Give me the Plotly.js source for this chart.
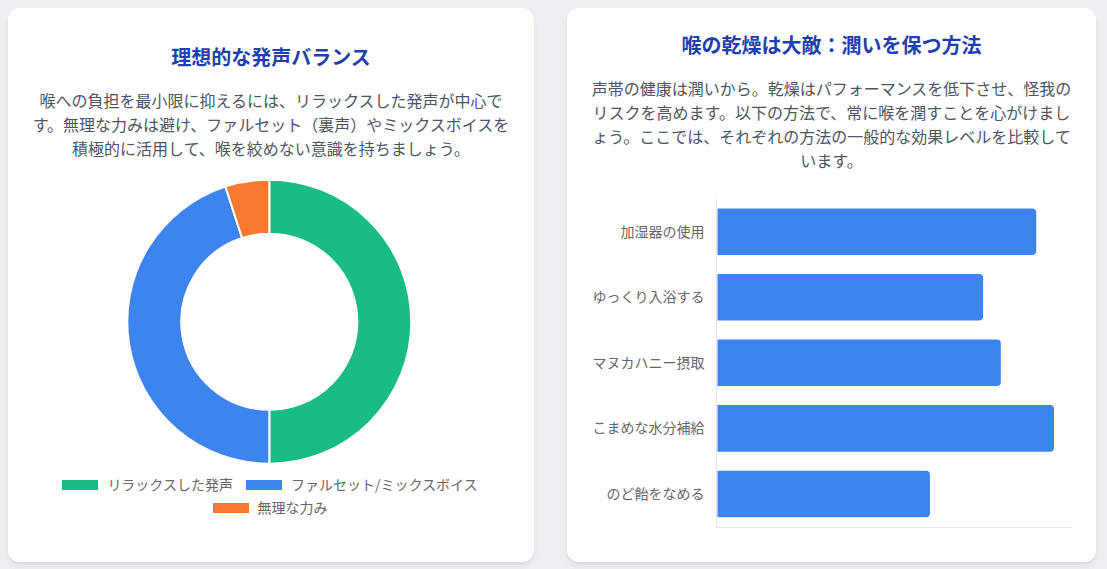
<!DOCTYPE html>
<html lang="ja">
<head>
<meta charset="utf-8">
<script src="https://cdn.plot.ly/plotly-3.0.1.min.js"></script>
<style>
  html, body { margin: 0; padding: 0; }
  body {
    width: 1107px; height: 569px; overflow: hidden; position: relative;
    background: #edeff3;
    font-family: "Noto Sans CJK JP", "Noto Sans", sans-serif;
  }
  .card {
    position: absolute; top: 8px; height: 554px; background: #ffffff;
    border-radius: 12px;
    box-shadow: 0 4px 6px -1px rgba(0,0,0,0.08), 0 2px 4px -2px rgba(0,0,0,0.06);
  }
  .title {
    position: absolute; text-align: center; font-weight: 700;
    color: #1e40af; font-size: 20px; line-height: 28px; white-space: nowrap;
  }
  .para {
    position: absolute; text-align: center; color: #4b5563;
    font-size: 16px; line-height: 24px; white-space: nowrap;
  }
  #chart { position: absolute; left: 0; top: 0; width: 1107px; height: 569px; }
  #legend {
    position: absolute; left: 55px; top: 473px; width: 430px;
    display: flex; flex-wrap: wrap; justify-content: center;
    font-size: 14px; color: #666666; line-height: 23px;
  }
  .litem { display: flex; align-items: center; margin: 0 6.5px; white-space: nowrap; }
  .lbox { width: 36px; height: 10px; margin-right: 9px; }
</style>
</head>
<body>
<div class="card" style="left:8px; width:526px;"></div>
<div class="card" style="left:567px; width:529px;"></div>

<div class="title" style="left:8px; width:526px; top:43px;">理想的な発声バランス</div>
<div class="para" style="left:8px; width:526px; top:88px;">喉への負担を最小限に抑えるには、リラックスした発声が中心で<br>す。無理な力みは避け、ファルセット（裏声）やミックスボイスを<br>積極的に活用して、喉を絞めない意識を持ちましょう。</div>

<div class="title" style="left:567px; width:529px; top:31px;">喉の乾燥は大敵：潤いを保つ方法</div>
<div class="para" style="left:567px; width:529px; top:76px;">声帯の健康は潤いから。乾燥はパフォーマンスを低下させ、怪我の<br>リスクを高めます。以下の方法で、常に喉を潤すことを心がけまし<br>ょう。ここでは、それぞれの方法の一般的な効果レベルを比較して<br>います。</div>

<div id="chart"></div>
<div id="legend"></div>

<script>
// ---- Data ----
const voiceLabels = ["リラックスした発声", "ファルセット/ミックスボイス", "無理な力み"];
const voiceValues = [50, 45, 5];
const voiceColors = ["#1abc85", "#3d84f0", "#f8782e"];

const methodLabels = ["加湿器の使用", "ゆっくり入浴する", "マヌカハニー摂取", "こまめな水分補給", "のど飴をなめる"];
const methodValues = [9, 7.5, 8, 9.5, 6];
const barColor = "#3d84f0";

// ---- Layout helpers (pixel -> paper fractions) ----
const W = 1107, H = 569;
const px = v => v / W;
const py = v => (H - v) / H;

const pie = {
  type: "pie",
  labels: voiceLabels,
  values: voiceValues,
  sort: false,
  direction: "clockwise",
  rotation: 0,
  hole: 0.62,
  textinfo: "none",
  hoverinfo: "none",
  showlegend: false,
  marker: { colors: voiceColors, line: { color: "#ffffff", width: 2 } },
  domain: { x: [px(127.3), px(411.3)], y: [py(463.7), py(179.7)] }
};

const bar = {
  type: "bar",
  orientation: "h",
  x: methodValues,
  y: methodLabels,
  marker: { color: barColor, cornerradius: 4 },
  hoverinfo: "none",
  showlegend: false,
  xaxis: "x",
  yaxis: "y"
};

const layout = {
  width: W, height: H,
  margin: { l: 0, r: 0, t: 0, b: 0 },
  paper_bgcolor: "rgba(0,0,0,0)",
  plot_bgcolor: "rgba(0,0,0,0)",
  font: { family: '"Noto Sans CJK JP", "Noto Sans", sans-serif', color: "#666666", size: 14 },
  bargap: 0.29,
  xaxis: {
    domain: [px(717.3), px(1071.7)],
    range: [0, 10],
    showticklabels: false,
    showgrid: false,
    zeroline: false,
    showline: true,
    linecolor: "#e5e5e5",
    linewidth: 1,
    ticks: "",
    fixedrange: true,
    automargin: false
  },
  yaxis: {
    domain: [py(526.7), py(199)],
    autorange: "reversed",
    showgrid: false,
    zeroline: false,
    showline: true,
    linecolor: "#e5e5e5",
    linewidth: 1,
    ticks: "",
    ticklabelstandoff: 9,
    tickfont: { size: 14, color: "#666666" },
    fixedrange: true,
    automargin: false
  }
};

Plotly.newPlot("chart", [pie, bar], layout, { staticPlot: true, displayModeBar: false });

// ---- Legend (built from data arrays) ----
const legend = document.getElementById("legend");
voiceLabels.forEach((lab, i) => {
  const item = document.createElement("div");
  item.className = "litem";
  const box = document.createElement("span");
  box.className = "lbox";
  box.style.background = voiceColors[i];
  const txt = document.createElement("span");
  txt.textContent = lab;
  item.appendChild(box);
  item.appendChild(txt);
  legend.appendChild(item);
});
</script>
</body>
</html>
